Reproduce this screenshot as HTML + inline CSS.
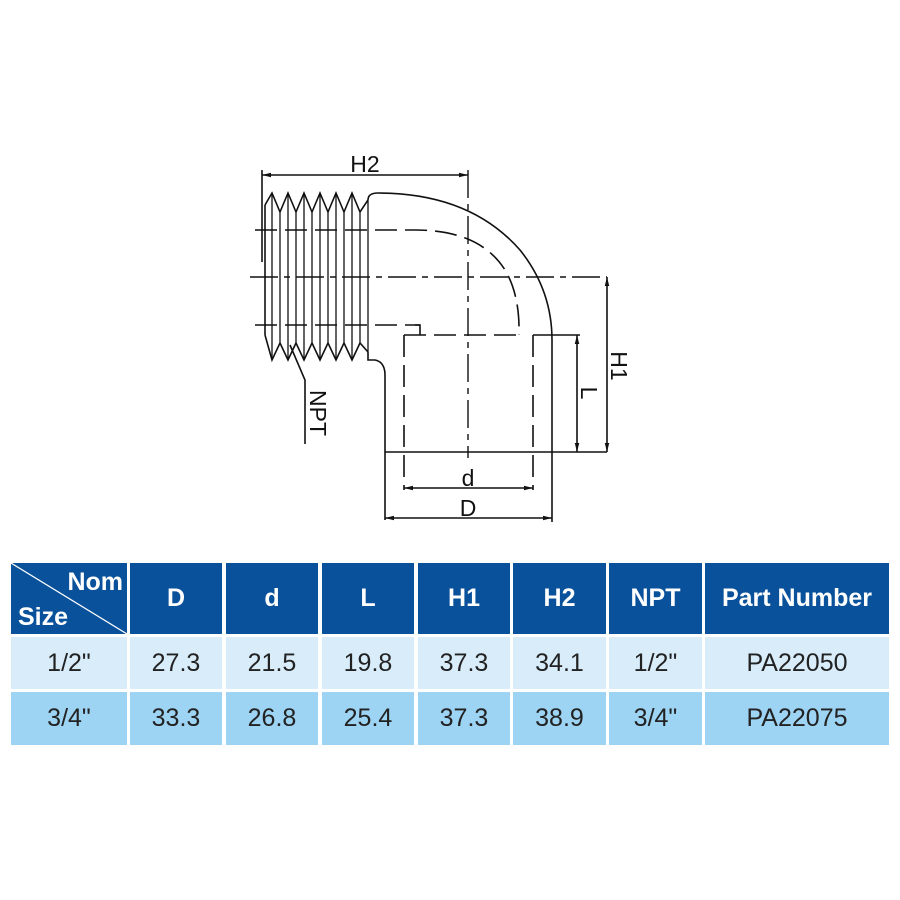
<!DOCTYPE html>
<html><head><meta charset="utf-8"><style>
body{margin:0;background:#fff;width:900px;height:900px;overflow:hidden;position:relative;font-family:"Liberation Sans",sans-serif}
.c{position:absolute;display:flex;align-items:center;justify-content:center}
.h{background:#0a519b;color:#fff;font-weight:bold;font-size:25px}
.r1{background:#d8ecfa;color:#222;font-size:25px}
.r2{background:#9dd3f3;color:#222;font-size:25px}
</style></head><body>
<svg width="900" height="560" style="position:absolute;left:0;top:0" fill="none" stroke="#111" stroke-width="1.6">
<defs><marker id="a" viewBox="0 0 12 8" refX="12" refY="4" markerWidth="12" markerHeight="6" markerUnits="userSpaceOnUse" orient="auto-start-reverse"><path d="M0,1 L12,4 L0,7 Z" fill="#111" stroke="none"/></marker></defs>
<line x1="262" y1="170" x2="262" y2="262"/>
<line x1="262" y1="175" x2="468" y2="175" marker-start="url(#a)" marker-end="url(#a)"/>
<text x="365" y="172" font-size="23" fill="#111" stroke="none" text-anchor="middle" font-family="Liberation Sans">H2</text>
<polyline points="265,205 272,193 280,212 288,193 296,212 304,193 312,212 320,193 328,212 336,193 344,212 352,193 360,212 368,200"/>
<polyline points="265,335 272,360 280,343 288,360 296,343 304,360 312,343 320,360 328,343 336,360 344,343 352,360 360,343 368,352"/>
<line x1="265" y1="205" x2="265" y2="335"/>
<g stroke-width="1.3">
<line x1="272" y1="193" x2="272" y2="360"/><line x1="280" y1="212" x2="280" y2="343"/>
<line x1="288" y1="193" x2="288" y2="360"/><line x1="296" y1="212" x2="296" y2="343"/>
<line x1="304" y1="193" x2="304" y2="360"/><line x1="312" y1="212" x2="312" y2="343"/>
<line x1="320" y1="193" x2="320" y2="360"/><line x1="328" y1="212" x2="328" y2="343"/>
<line x1="336" y1="193" x2="336" y2="360"/><line x1="344" y1="212" x2="344" y2="343"/>
<line x1="352" y1="193" x2="352" y2="360"/><line x1="360" y1="212" x2="360" y2="343"/>
<line x1="368" y1="200" x2="368" y2="352"/>
</g>
<path d="M368,200 Q368,193 378,193 Q470,193 520,250 Q552,290 552,340 L552,452"/>
<path d="M368,352 L368,360 L375,360 Q385,362 385,375 L385,520"/>
<line x1="385" y1="452" x2="607" y2="452"/>
<g stroke-dasharray="22,8">
<path d="M255,230 L415,230 Q480,230 505,270 Q520,295 519,335"/>
<line x1="255" y1="325" x2="420" y2="325"/>
<line x1="404" y1="335" x2="404" y2="490"/>
<line x1="533" y1="335" x2="533" y2="490"/>
<line x1="404" y1="335" x2="520" y2="335"/>
</g>
<path d="M415,325 L420,325 L420,335"/>
<line x1="250" y1="277" x2="607" y2="277" stroke-dasharray="28,6,6,6" stroke-width="1.4"/>
<line x1="468" y1="170" x2="468" y2="458" stroke-dasharray="28,6,6,6" stroke-width="1.4"/>
<line x1="533" y1="335" x2="580" y2="335"/>
<line x1="577" y1="335" x2="577" y2="452" marker-start="url(#a)" marker-end="url(#a)"/>
<line x1="607" y1="277" x2="607" y2="452" marker-start="url(#a)" marker-end="url(#a)"/>
<line x1="404" y1="488" x2="533" y2="488" marker-start="url(#a)" marker-end="url(#a)"/>
<line x1="552" y1="452" x2="552" y2="522"/>
<line x1="385" y1="518" x2="552" y2="518" marker-start="url(#a)" marker-end="url(#a)"/>
<text x="468" y="486" font-size="23" fill="#111" stroke="none" text-anchor="middle" font-family="Liberation Sans">d</text>
<text x="468" y="516" font-size="23" fill="#111" stroke="none" text-anchor="middle" font-family="Liberation Sans">D</text>
<text transform="translate(581,393) rotate(90)" font-size="23" fill="#111" stroke="none" text-anchor="middle" font-family="Liberation Sans">L</text>
<text transform="translate(611,366) rotate(90)" font-size="23" fill="#111" stroke="none" text-anchor="middle" font-family="Liberation Sans">H1</text>
<polyline points="290,345 305,380 305,444"/>
<text transform="translate(310,413) rotate(90)" font-size="23" fill="#111" stroke="none" text-anchor="middle" font-family="Liberation Sans">NPT</text>
</svg>

<div class="c h" style="left:11px;top:563px;width:116px;height:71px"></div>
<svg style="position:absolute;left:11px;top:563px" width="116" height="71"><line x1="0" y1="0" x2="116" y2="71" stroke="#fff" stroke-width="1.2"/>
<text x="112" y="27" fill="#fff" font-size="25" font-weight="bold" text-anchor="end" font-family="Liberation Sans">Nom</text>
<text x="7" y="62" fill="#fff" font-size="25" font-weight="bold" font-family="Liberation Sans">Size</text></svg>
<div class="c h" style="left:130px;top:563px;width:92px;height:71px">D</div>
<div class="c h" style="left:226px;top:563px;width:92px;height:71px">d</div>
<div class="c h" style="left:322px;top:563px;width:92px;height:71px">L</div>
<div class="c h" style="left:418px;top:563px;width:92px;height:71px">H1</div>
<div class="c h" style="left:513px;top:563px;width:93px;height:71px">H2</div>
<div class="c h" style="left:609px;top:563px;width:93px;height:71px">NPT</div>
<div class="c h" style="left:705px;top:563px;width:184px;height:71px">Part Number</div>

<div class="c r1" style="left:11px;top:637px;width:116px;height:52px">1/2"</div>
<div class="c r1" style="left:130px;top:637px;width:92px;height:52px">27.3</div>
<div class="c r1" style="left:226px;top:637px;width:92px;height:52px">21.5</div>
<div class="c r1" style="left:322px;top:637px;width:92px;height:52px">19.8</div>
<div class="c r1" style="left:418px;top:637px;width:92px;height:52px">37.3</div>
<div class="c r1" style="left:513px;top:637px;width:93px;height:52px">34.1</div>
<div class="c r1" style="left:609px;top:637px;width:93px;height:52px">1/2"</div>
<div class="c r1" style="left:705px;top:637px;width:184px;height:52px">PA22050</div>

<div class="c r2" style="left:11px;top:692px;width:116px;height:53px">3/4"</div>
<div class="c r2" style="left:130px;top:692px;width:92px;height:53px">33.3</div>
<div class="c r2" style="left:226px;top:692px;width:92px;height:53px">26.8</div>
<div class="c r2" style="left:322px;top:692px;width:92px;height:53px">25.4</div>
<div class="c r2" style="left:418px;top:692px;width:92px;height:53px">37.3</div>
<div class="c r2" style="left:513px;top:692px;width:93px;height:53px">38.9</div>
<div class="c r2" style="left:609px;top:692px;width:93px;height:53px">3/4"</div>
<div class="c r2" style="left:705px;top:692px;width:184px;height:53px">PA22075</div>
</body></html>
